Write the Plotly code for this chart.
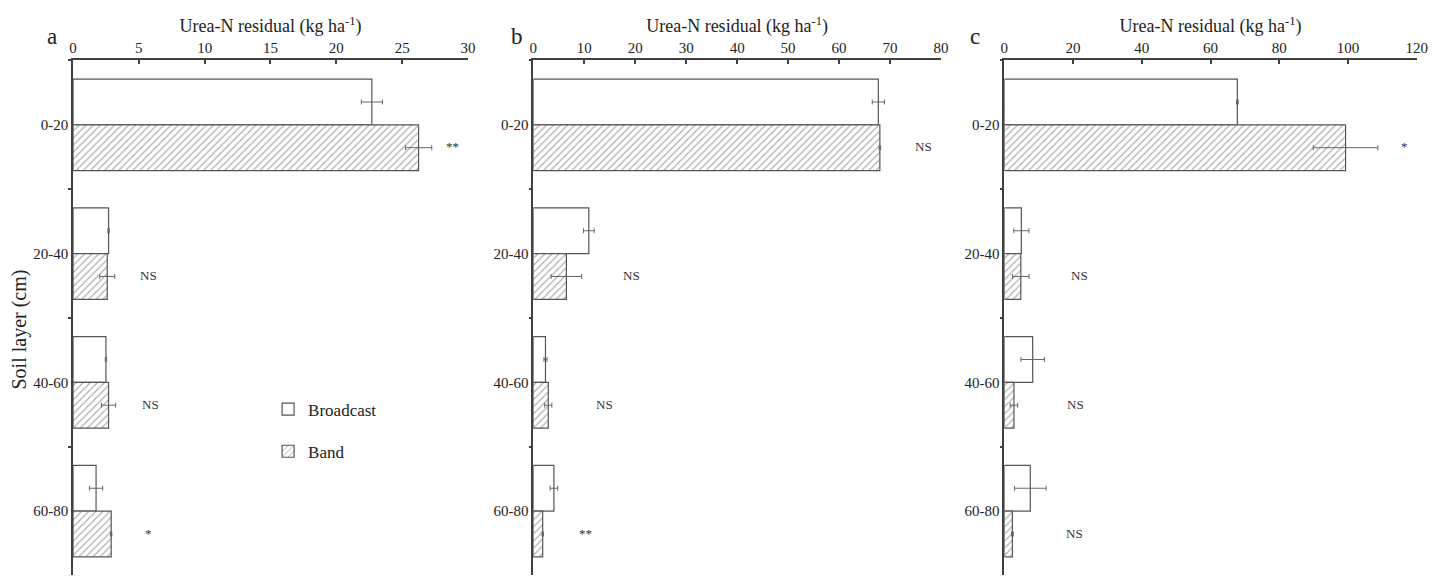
import plotly.graph_objects as go

layers = ["0-20", "20-40", "40-60", "60-80"]

a_broadcast = [22.7, 2.7, 2.5, 1.75]
a_broadcast_err = [0.8, 0.05, 0.05, 0.5]
a_band = [26.25, 2.6, 2.7, 2.9]
a_band_err = [1.0, 0.57, 0.54, 0.05]
a_sig = ["**", "NS", "NS", "*"]
a_sig_x = [28.85, 5.7, 5.85, 5.7]

b_broadcast = [67.7, 10.9, 2.4, 4.05]
b_broadcast_err = [1.2, 1.05, 0.3, 0.75]
b_band = [68.0, 6.5, 2.95, 1.85]
b_band_err = [0.15, 3.0, 0.7, 0.15]
b_sig = ["NS", "NS", "NS", "**"]
b_sig_x = [76.5, 19.3, 13.9, 10.3]

c_broadcast = [67.8, 4.95, 8.25, 7.55]
c_broadcast_err = [0.25, 2.2, 3.4, 4.6]
c_band = [99.3, 4.8, 2.8, 2.35]
c_band_err = [9.4, 2.4, 1.1, 0.25]
c_sig = ["*", "NS", "NS", "NS"]
c_sig_x = [116.3, 21.9, 20.8, 20.5]

x_ranges = [[0, 30], [0, 80], [0, 120]]
x_dtick = [5, 10, 20]
panel_letters = ["a", "b", "c"]

FONT = "Liberation Serif"
LINE = "#404040"
TXT = "#222222"

panels = [
    (a_broadcast, a_broadcast_err, a_band, a_band_err, a_sig, a_sig_x),
    (b_broadcast, b_broadcast_err, b_band, b_band_err, b_sig, b_sig_x),
    (c_broadcast, c_broadcast_err, c_band, c_band_err, c_sig, c_sig_x),
]

x_domains = [[0.0450, 0.3183], [0.3635, 0.6457], [0.6895, 0.9749]]
y_domain = [0.0148, 0.9089]
letter_x = [0.0304, 0.3522, 0.6692]

fig = go.Figure()
annotations = []

for i, (bc, bce, bd, bde, sig, sigx) in enumerate(panels):
    xa = "x" if i == 0 else f"x{i+1}"
    ya = "y" if i == 0 else f"y{i+1}"
    fig.add_trace(go.Bar(
        y=layers, x=bc, orientation="h", name="Broadcast",
        xaxis=xa, yaxis=ya, showlegend=(i == 0), legendgroup="g1",
        marker=dict(color="white", line=dict(color="#555555", width=1.2)),
        error_x=dict(type="data", array=bce, color="#666666", thickness=1, width=2.5),
        offsetgroup="1",
    ))
    fig.add_trace(go.Bar(
        y=layers, x=bd, orientation="h", name="Band",
        xaxis=xa, yaxis=ya, showlegend=(i == 0), legendgroup="g2",
        marker=dict(color="white", line=dict(color="#555555", width=1.2),
                    pattern=dict(shape="/", size=5, solidity=0.22,
                                 fgcolor="#555555", bgcolor="white")),
        error_x=dict(type="data", array=bde, color="#666666", thickness=1, width=2.5),
        offsetgroup="2",
    ))
    for lay, s, sx in zip(layers, sig, sigx):
        annotations.append(dict(
            x=sx, y=lay, xref=xa, yref=ya, text=s, showarrow=False,
            yshift=-22, font=dict(family=FONT, size=13, color="#333333"),
        ))
    annotations.append(dict(
        x=letter_x[i], y=0.951, xref="paper", yref="paper", text=panel_letters[i],
        xanchor="center", yanchor="middle",
        showarrow=False, font=dict(family=FONT, size=23, color=TXT),
    ))

    xkey = "xaxis" if i == 0 else f"xaxis{i+1}"
    ykey = "yaxis" if i == 0 else f"yaxis{i+1}"
    fig.update_layout({
        xkey: dict(
            domain=x_domains[i], anchor=ya, side="top", range=x_ranges[i],
            dtick=x_dtick[i], tick0=0, showgrid=False, zeroline=False,
            showline=True, linecolor=LINE, linewidth=1.5, automargin=False,
            ticks="inside", ticklen=4, tickcolor=LINE, tickwidth=1.5,
            tickfont=dict(family=FONT, size=15, color=TXT),
            title=dict(text="Urea-N residual (kg ha<sup>-1</sup>)",
                       font=dict(family=FONT, size=18, color=TXT), standoff=2),
        ),
        ykey: dict(
            domain=y_domain, anchor=xa, type="category", automargin=False,
            categoryorder="array", categoryarray=layers, range=[3.5, -0.5],
            showgrid=False, zeroline=False, showline=True, linecolor=LINE, linewidth=1.5,
            ticks="outside", tickson="boundaries", ticklen=3, tickcolor=LINE, tickwidth=1.5,
            tickfont=dict(family=FONT, size=15, color=TXT),
        ),
    })

annotations.append(dict(
    x=0.0080, y=0.441, xref="paper", yref="paper", text="Soil layer (cm)",
    xanchor="center", yanchor="middle",
    textangle=-90, showarrow=False, font=dict(family=FONT, size=20, color=TXT),
))

fig.update_layout(
    width=1445, height=576,
    margin=dict(l=0, r=0, t=0, b=0, autoexpand=False),
    paper_bgcolor="white", plot_bgcolor="white",
    barmode="group", bargap=0.29, bargroupgap=0,
    annotations=annotations,
    legend=dict(x=0.180, y=0.334, xanchor="left", yanchor="top",
                font=dict(family=FONT, size=17, color=TXT),
                tracegroupgap=17, bgcolor="rgba(0,0,0,0)"),
    font=dict(family=FONT),
)

fig.write_html("out.html")
